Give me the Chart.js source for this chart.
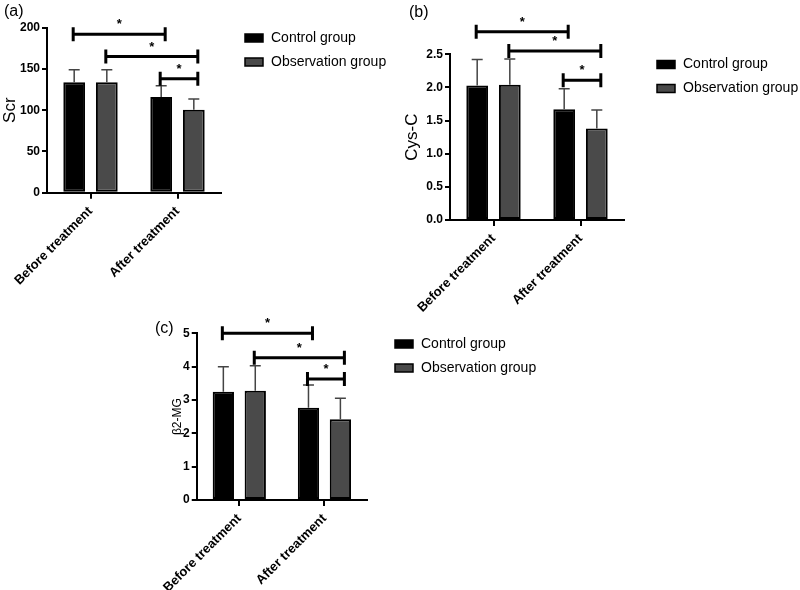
<!DOCTYPE html>
<html>
<head>
<meta charset="utf-8">
<script src="https://cdn.jsdelivr.net/npm/chart.js@4.4.1/dist/chart.umd.min.js"></script>
<style>
  body { margin: 0; background: #fff; }
  #wrap { position: relative; width: 800px; height: 590px; overflow: hidden; }
  canvas { position: absolute; }
</style>
</head>
<body>
<div id="wrap">
  <canvas id="chartA" width="395" height="310" style="left:0px;top:0px;width:395px;height:310px"></canvas>
  <canvas id="chartB" width="405" height="330" style="left:395px;top:0px;width:405px;height:330px"></canvas>
  <canvas id="chartC" width="420" height="290" style="left:150px;top:300px;width:420px;height:290px"></canvas>
</div>
<script>
const FONT = "'Liberation Sans', Arial, Helvetica, sans-serif";

// categories + series names
const groups = ['Before treatment', 'After treatment'];
const seriesNames = ['Control group', 'Observation group'];

// (a) Scr
const scrControl = [134, 116];
const scrObserve = [134, 100.5];
const scrControlSD = [15, 13.5];
const scrObserveSD = [15, 13];
const scrTicks = [0, 50, 100, 150, 200];

// (b) Cys-C
const cysControl = [2.03, 1.67];
const cysObserve = [2.04, 1.38];
const cysControlSD = [0.39, 0.31];
const cysObserveSD = [0.39, 0.28];
const cysTicks = [0, 0.5, 1, 1.5, 2, 2.5];

// (c) b2-MG
const mgControl = [3.25, 2.77];
const mgObserve = [3.28, 2.42];
const mgControlSD = [0.75, 0.68];
const mgObserveSD = [0.75, 0.63];
const mgTicks = [0, 1, 2, 3, 4, 5];

// significance brackets: [dataset, category] to [dataset, category], height, label
const scrSig = [[0, 0, 0, 1, 192, '*'], [1, 0, 1, 1, 165, '*'], [0, 1, 1, 1, 138, '*']];
const cysSig = [[0, 0, 0, 1, 2.84, '*'], [1, 0, 1, 1, 2.55, '*'], [0, 1, 1, 1, 2.11, '*']];
const mgSig = [[0, 0, 0, 1, 5.0, '*'], [1, 0, 1, 1, 4.27, '*'], [0, 1, 1, 1, 3.63, '*']];

const colControl = '#000000';
const colObserve = '#4a4a4a';

// error bars, brackets, legend and panel letter
const extras = {
  id: 'extras',
  afterDraw(chart, args, opts) {
    const ctx = chart.ctx;
    const ys = chart.scales.y;
    ctx.save();

    // error bars (upper only)
    chart.data.datasets.forEach((ds, di) => {
      const meta = chart.getDatasetMeta(di);
      meta.data.forEach((bar, i) => {
        const top = ys.getPixelForValue(ds.data[i] + ds.sd[i]);
        ctx.strokeStyle = '#444';
        ctx.lineWidth = 1.5;
        ctx.beginPath();
        ctx.moveTo(bar.x, bar.y);
        ctx.lineTo(bar.x, top);
        ctx.moveTo(bar.x - 5.5, top);
        ctx.lineTo(bar.x + 5.5, top);
        ctx.stroke();
      });
    });

    // brackets
    ctx.strokeStyle = '#000';
    ctx.lineWidth = 3;
    ctx.fillStyle = '#000';
    ctx.font = 'bold 13px ' + FONT;
    ctx.textAlign = 'center';
    ctx.textBaseline = 'alphabetic';
    opts.sig.forEach(s => {
      const x1 = chart.getDatasetMeta(s[0]).data[s[1]].x - 1;
      const x2 = chart.getDatasetMeta(s[2]).data[s[3]].x + 4;
      const y = ys.getPixelForValue(s[4]);
      ctx.beginPath();
      ctx.moveTo(x1, y - 7); ctx.lineTo(x1, y + 7);
      ctx.moveTo(x2, y - 7); ctx.lineTo(x2, y + 7);
      ctx.moveTo(x1, y); ctx.lineTo(x2, y);
      ctx.stroke();
      ctx.fillText(s[5], (x1 + x2) / 2, y - 6);
    });

    // legend
    ctx.textAlign = 'left';
    ctx.textBaseline = 'middle';
    ctx.font = '14px ' + FONT;
    chart.data.datasets.forEach((ds, di) => {
      const ly = opts.legendY + di * 24;
      ctx.fillStyle = ds.backgroundColor;
      ctx.fillRect(opts.legendX, ly - 4, 18, 8);
      ctx.strokeStyle = '#000';
      ctx.lineWidth = 1.5;
      ctx.strokeRect(opts.legendX, ly - 4, 18, 8);
      ctx.fillStyle = '#000';
      ctx.fillText(ds.label, opts.legendX + 26, ly);
    });

    // panel letter
    ctx.font = '16px ' + FONT;
    ctx.fillText(opts.letter, opts.letterX, opts.letterY);
    ctx.restore();
  }
};

function makeChart(id, cfg) {
  return new Chart(document.getElementById(id), {
    type: 'bar',
    data: {
      labels: groups,
      datasets: [
        { label: seriesNames[0], data: cfg.control, sd: cfg.controlSD,
          backgroundColor: colControl, borderColor: '#000', borderWidth: 2, borderSkipped: false,
          categoryPercentage: 0.75, barPercentage: 0.667 },
        { label: seriesNames[1], data: cfg.observe, sd: cfg.observeSD,
          backgroundColor: colObserve, borderColor: '#000', borderWidth: 2, borderSkipped: false,
          categoryPercentage: 0.75, barPercentage: 0.667 }
      ]
    },
    options: {
      responsive: false,
      animation: false,
      layout: { padding: cfg.padding },
      plugins: {
        legend: { display: false },
        tooltip: { enabled: false },
        extras: cfg.extras
      },
      scales: {
        x: {
          offset: true,
          ticks: { minRotation: 45, maxRotation: 45, autoSkip: false, color: '#000',
                   font: { family: FONT, size: 13, weight: 'bold' }, padding: 5 },
          grid: { offset: false, drawOnChartArea: false, tickLength: 6, color: '#000', lineWidth: 2 },
          border: { color: '#000', width: 2 },
          afterFit(s) { s.height = cfg.xHeight; }
        },
        y: {
          min: 0,
          max: cfg.ticks[cfg.ticks.length - 1],
          afterBuildTicks(s) { s.ticks = cfg.ticks.map(v => ({ value: v })); },
          ticks: { color: '#000', font: { family: FONT, size: 12, weight: 'bold' }, padding: 2,
                   callback: v => cfg.fmt(v) },
          grid: { drawOnChartArea: false, tickLength: 5, color: '#000', lineWidth: 2 },
          border: { color: '#000', width: 2 },
          title: { display: true, text: cfg.title, color: '#000',
                   font: { family: FONT, size: cfg.titleSize }, padding: { top: cfg.titlePad, bottom: 0 } },
          afterFit(s) { s.width = cfg.yWidth; }
        }
      }
    },
    plugins: [extras]
  });
}

makeChart('chartA', {
  control: scrControl, observe: scrObserve, controlSD: scrControlSD, observeSD: scrObserveSD,
  ticks: scrTicks, fmt: v => String(v), title: 'Scr', titleSize: 17, titlePad: 0,
  padding: { left: 0, top: 27.7, right: 174, bottom: 7.3 }, xHeight: 110, yWidth: 47,
  extras: { sig: scrSig, legendX: 245, legendY: 38, letter: '(a)', letterX: 4, letterY: 12 }
});

makeChart('chartB', {
  control: cysControl, observe: cysObserve, controlSD: cysControlSD, observeSD: cysObserveSD,
  ticks: cysTicks, fmt: v => v.toFixed(1), title: 'Cys-C', titleSize: 17, titlePad: 7,
  padding: { left: 0, top: 54.3, right: 176, bottom: 0 }, xHeight: 110, yWidth: 55,
  extras: { sig: cysSig, legendX: 262, legendY: 64.5, letter: '(b)', letterX: 14, letterY: 13 }
});

makeChart('chartC', {
  control: mgControl, observe: mgObserve, controlSD: mgControlSD, observeSD: mgObserveSD,
  ticks: mgTicks, fmt: v => String(v), title: 'β2-MG', titleSize: 12, titlePad: 17,
  padding: { left: 0, top: 33.3, right: 203, bottom: 0 }, xHeight: 90, yWidth: 43,
  extras: { sig: mgSig, legendX: 245, legendY: 44, letter: '(c)', letterX: 5, letterY: 29 }
});
</script>
</body>
</html>
